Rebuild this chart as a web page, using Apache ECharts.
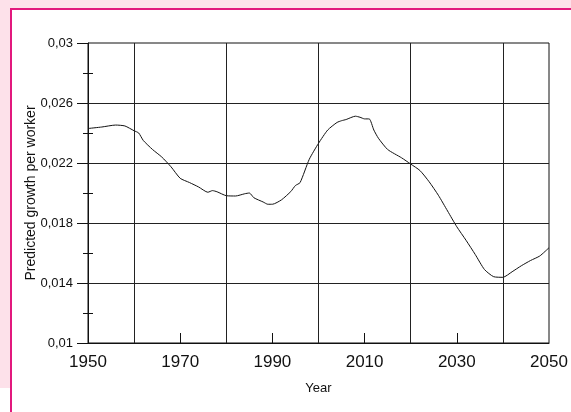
<!DOCTYPE html>
<html>
<head>
<meta charset="utf-8">
<script src="https://cdn.jsdelivr.net/npm/echarts@6/dist/echarts.min.js"></script>
<style>
  html, body { margin: 0; padding: 0; background: #ffffff; }
  #wrap { position: relative; width: 571px; height: 412px; overflow: hidden; }
  .pinkTop { position: absolute; left: 0; top: 0; width: 571px; height: 8px; background: #fde1ea; }
  .pinkLeft { position: absolute; left: 0; top: 0; width: 10px; height: 388px; background: #fde1ea; }
  .bTop { position: absolute; left: 10px; top: 8px; width: 561px; height: 2px; background: #e2187d; }
  .bLeft { position: absolute; left: 10px; top: 8px; width: 2px; height: 404px; background: #e2187d; }
  #chart { position: absolute; left: 0; top: 0; width: 571px; height: 412px; }
</style>
</head>
<body>
<div id="wrap">
  <div class="pinkTop"></div>
  <div class="pinkLeft"></div>
  <div class="bTop"></div>
  <div class="bLeft"></div>
  <div id="chart"></div>
</div>
<script>
// ---- data ----
const years = [1950, 1953, 1956, 1958, 1960, 1961, 1962, 1964, 1966, 1968,
  1970, 1972, 1974, 1976, 1977, 1978, 1980, 1982, 1984, 1985,
  1986, 1988, 1989, 1990, 1992, 1994, 1995, 1996, 1998, 2000,
  2002, 2004, 2005, 2006, 2008, 2009, 2010, 2011, 2012, 2013,
  2015, 2018, 2020, 2022, 2024, 2026, 2028, 2030, 2032, 2034,
  2036, 2038, 2040, 2042, 2044, 2046, 2048, 2050];
const growth = [0.02430, 0.02440, 0.02453, 0.02447, 0.02415, 0.02400, 0.02350, 0.02290, 0.02240, 0.02175,
  0.02098, 0.02070, 0.02040, 0.02005, 0.02016, 0.02008, 0.01982, 0.01980, 0.01995, 0.02000,
  0.01968, 0.01940, 0.01925, 0.01925, 0.01955, 0.02010, 0.02050, 0.02069, 0.02225, 0.02331,
  0.02420, 0.02470, 0.02482, 0.02490, 0.02512, 0.02505, 0.02494, 0.02494, 0.02420, 0.02365,
  0.02290, 0.02235, 0.02193, 0.02150, 0.02075, 0.01985, 0.01880, 0.01775, 0.01685, 0.01590,
  0.01490, 0.01442, 0.01438, 0.01475, 0.01515, 0.01550, 0.01580, 0.01635];

const xLabelValues = [1950, 1970, 1990, 2010, 2030, 2050];
const xTickValues = [1970, 1990, 2010, 2030];
const xGridValues = [1960, 1980, 2000, 2020, 2040];
const yLabelValues = [0.01, 0.014, 0.018, 0.022, 0.026, 0.03];
const yMinorValues = [0.012, 0.016, 0.02, 0.024, 0.028];
const yGridValues = [0.014, 0.018, 0.022, 0.026];

const xName = 'Year';
const yName = 'Predicted growth per worker';

const xMin = 1950, xMax = 2050, yMin = 0.01, yMax = 0.03;

const seriesData = years.map((y, i) => [y, growth[i]]);
const font = 'Liberation Sans, Arial, Helvetica, sans-serif';
const black = '#111';

const gridLines = xGridValues.map(v => [{ coord: [v, yMin] }, { coord: [v, yMax] }])
  .concat(yGridValues.map(v => [{ coord: [xMin, v] }, { coord: [xMax, v] }]));

const chart = echarts.init(document.getElementById('chart'), null, { renderer: 'canvas' });
chart.setOption({
  animation: false,
  backgroundColor: 'transparent',
  grid: { left: 88, right: 22, top: 43, bottom: 69, show: true, borderColor: black, borderWidth: 1, backgroundColor: 'transparent' },
  xAxis: [{
    type: 'value', min: xMin, max: xMax, position: 'bottom',
    name: xName, nameLocation: 'middle', nameGap: 39, nameMoveOverlap: false,
    nameTextStyle: { fontSize: 13, color: black, fontFamily: font },
    axisLine: { show: true, lineStyle: { color: black, width: 1 } },
    axisTick: { show: true, inside: true, length: 10, customValues: xTickValues, lineStyle: { color: black, width: 1 } },
    axisLabel: { customValues: xLabelValues, fontSize: 17, color: black, margin: 11, fontFamily: font,
      formatter: v => String(v) },
    splitLine: { show: false }
  }],
  yAxis: [{
    type: 'value', min: yMin, max: yMax, position: 'left',
    name: yName, nameLocation: 'middle', nameGap: 50, nameMoveOverlap: false,
    nameTextStyle: { fontSize: 14, color: black, fontFamily: font },
    axisLine: { show: true, lineStyle: { color: black, width: 1 } },
    axisTick: { show: true, inside: false, length: 11, customValues: yLabelValues, lineStyle: { color: black, width: 1 } },
    axisLabel: { customValues: yLabelValues, fontSize: 13, color: black, margin: 15, fontFamily: font,
      formatter: v => String(v).replace('.', ',') },
    splitLine: { show: false }
  }, {
    type: 'value', min: yMin, max: yMax, position: 'left',
    axisLine: { show: false },
    axisTick: { show: true, inside: false, length: 5, customValues: yMinorValues, lineStyle: { color: black, width: 1 } },
    axisLabel: { show: false }, splitLine: { show: false }
  }, {
    type: 'value', min: yMin, max: yMax, position: 'left',
    axisLine: { show: false },
    axisTick: { show: true, inside: true, length: 5, customValues: yMinorValues, lineStyle: { color: black, width: 1 } },
    axisLabel: { show: false }, splitLine: { show: false }
  }],
  series: [{
    type: 'line', xAxisIndex: 0, yAxisIndex: 0,
    data: seriesData, showSymbol: false, symbol: 'none', smooth: 0.2,
    lineStyle: { color: black, width: 1 },
    markLine: {
      silent: true, symbol: ['none', 'none'], label: { show: false },
      lineStyle: { type: 'solid', color: '#222', width: 1 },
      emphasis: { disabled: true },
      data: gridLines
    }
  }]
});
</script>
</body>
</html>
